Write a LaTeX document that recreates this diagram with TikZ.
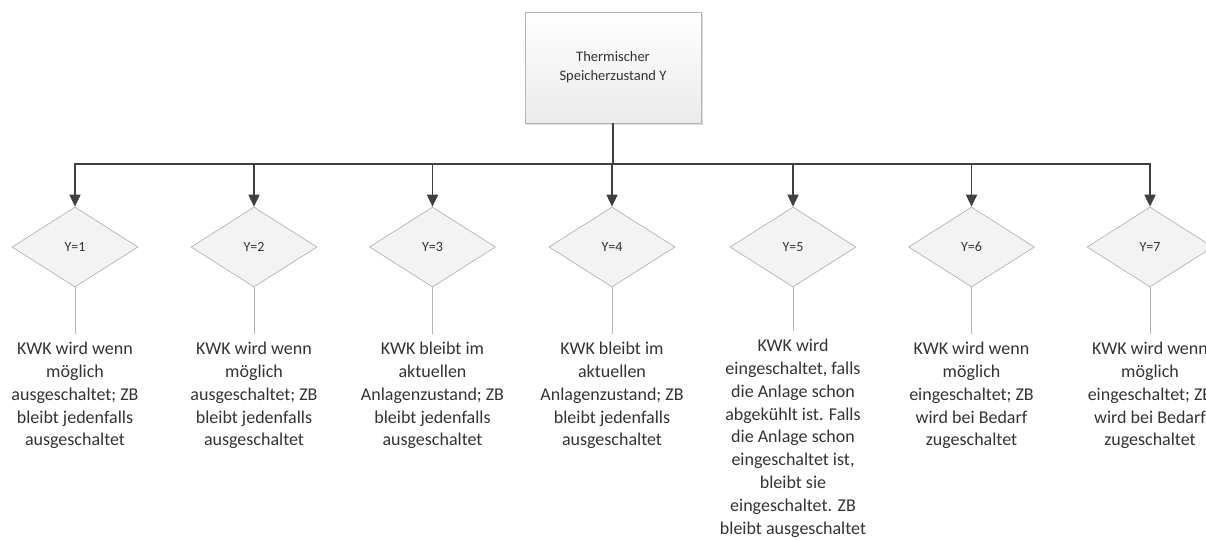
\documentclass[tikz,border=0pt]{standalone}
\usepackage{fontspec}
\setmainfont{Carlito}
\usetikzlibrary{shapes.geometric,arrows.meta,shadows}
\definecolor{txt}{HTML}{333333}
\definecolor{arr}{HTML}{404040}
\definecolor{bord}{HTML}{B4B4B4}
\definecolor{dfill}{HTML}{F3F3F3}
\tikzset{
  topbox/.style={draw=bord, line width=0.8pt, top color=white, bottom color=black!8,
    minimum width=176pt, minimum height=111pt, align=center, text=txt,
    font=\fontsize{14.5}{19}\selectfont, drop shadow={shadow xshift=1.5pt, shadow yshift=-1.5pt, fill=black!25}},
  dia/.style={diamond, draw=bord, line width=0.7pt, fill=dfill, aspect=1.575,
    minimum width=126pt, minimum height=80pt, inner sep=0pt, text=txt,
    font=\fontsize{14}{16}\selectfont},
  desc/.style={anchor=north, align=center, inner sep=0pt, text=txt,
    font=\fontsize{18}{22.8}\selectfont},
  arrowline/.style={draw=arr, line width=1.8pt, -{Triangle[length=12pt,width=11pt]}},
  stemline/.style={draw=arr, line width=1.8pt},
  thinline/.style={draw=bord, line width=0.8pt, shorten >=8pt}
}
\begin{document}
\begin{tikzpicture}[x=1pt,y=-1pt]
\useasboundingbox (0,0) rectangle (1206,539);
\clip (0,0) rectangle (1206,539);
\node[topbox] (top) at (613,67.5) {Thermischer\\Speicherzustand Y};
\coordinate (bus) at (613,164);
\foreach \i/\x in {1/75,2/254,3/432.5,4/612,5/793,6/971.5,7/1150}{
  \node[dia] (d\i) at (\x,247) {Y=\i};
}
\node[desc] (t1) at (75,342) {KWK wird wenn\\möglich\\ausgeschaltet; ZB\\bleibt jedenfalls\\ausgeschaltet};
\node[desc] (t2) at (254,342) {KWK wird wenn\\möglich\\ausgeschaltet; ZB\\bleibt jedenfalls\\ausgeschaltet};
\node[desc] (t3) at (432.5,342) {KWK bleibt im\\aktuellen\\Anlagenzustand; ZB\\bleibt jedenfalls\\ausgeschaltet};
\node[desc] (t4) at (612,342) {KWK bleibt im\\aktuellen\\Anlagenzustand; ZB\\bleibt jedenfalls\\ausgeschaltet};
\node[desc] (t5) at (793,339) {KWK wird\\eingeschaltet, falls\\die Anlage schon\\abgekühlt ist. Falls\\die Anlage schon\\eingeschaltet ist,\\bleibt sie\\eingeschaltet. ZB\\bleibt ausgeschaltet};
\node[desc] (t6) at (971.5,342) {KWK wird wenn\\möglich\\eingeschaltet; ZB\\wird bei Bedarf\\zugeschaltet};
\node[desc] (t7) at (1150,342) {KWK wird wenn\\möglich\\eingeschaltet; ZB\\wird bei Bedarf\\zugeschaltet};
\draw[stemline] (top.south) -- (bus);
\foreach \i in {1,...,7}{
  \draw[arrowline] (bus) -| (d\i.north);
  \draw[thinline] (d\i.south) -- (t\i.north);
}
\end{tikzpicture}
\end{document}
